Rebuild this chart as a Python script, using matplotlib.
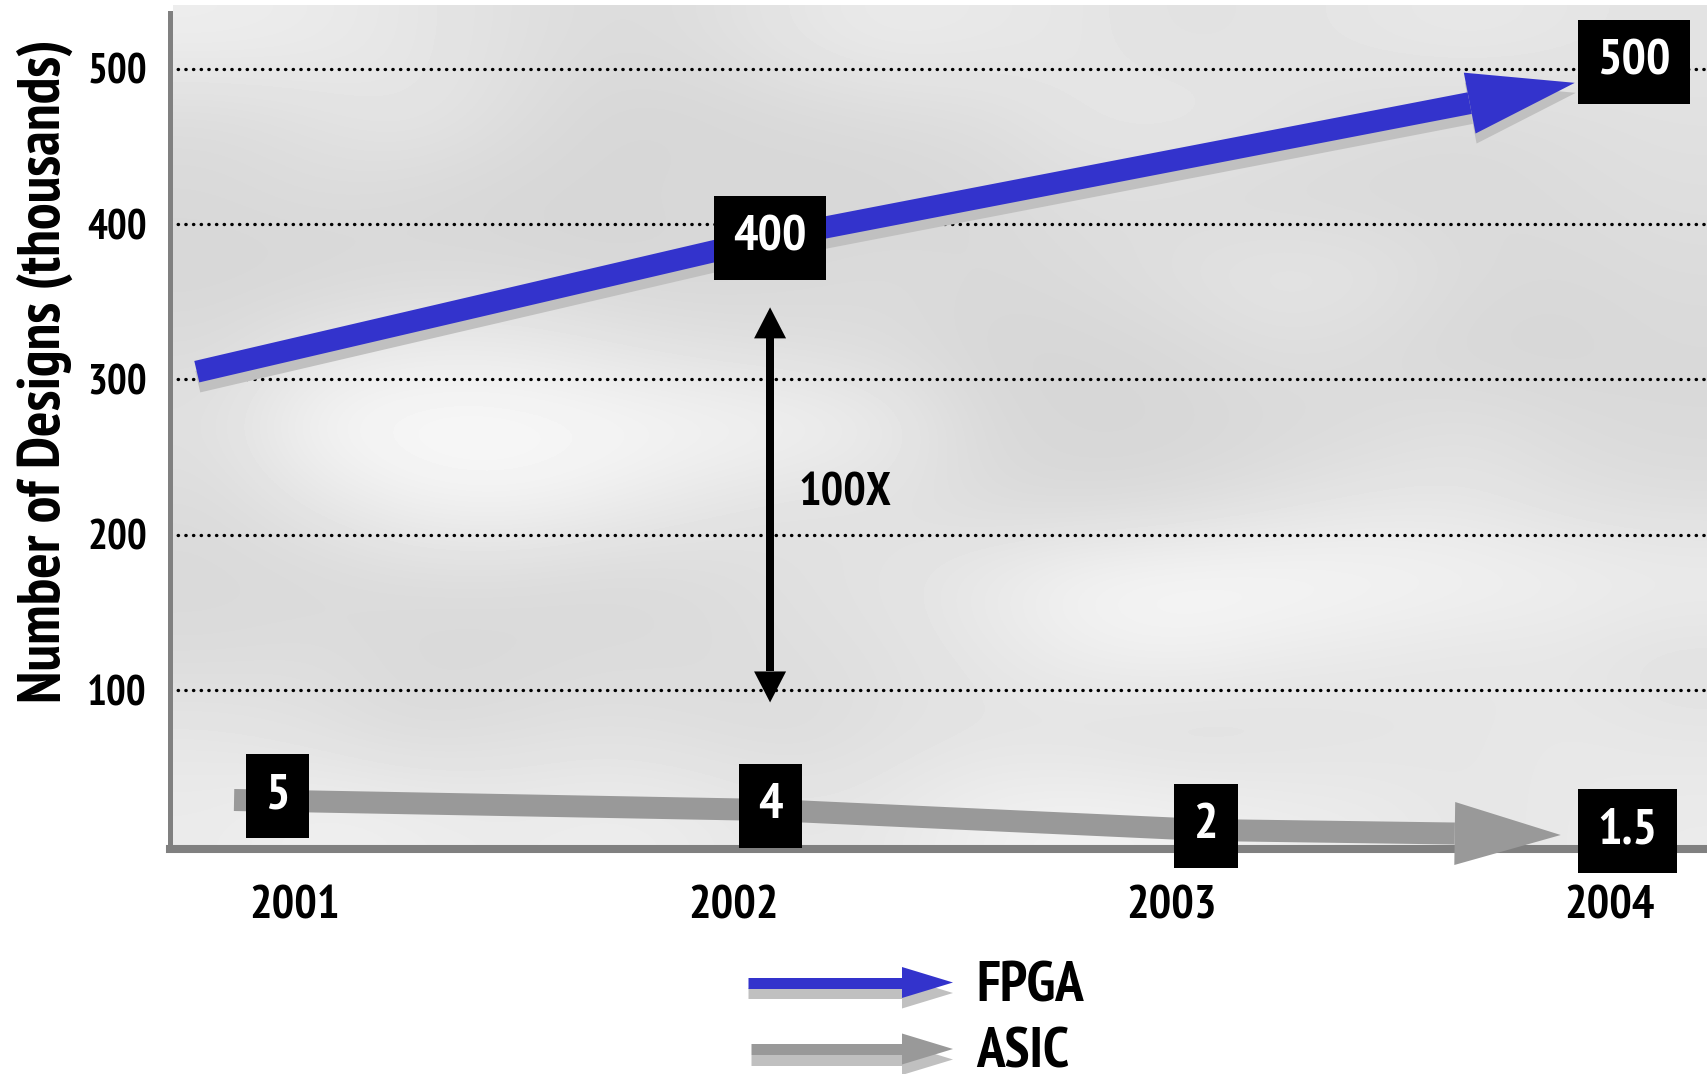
import numpy as np
import matplotlib
matplotlib.use("Agg")
import matplotlib.pyplot as plt
from matplotlib import font_manager
from matplotlib.patches import Polygon

# ---- data -------------------------------------------------------------
years = ["2001", "2002", "2003", "2004"]
fpga_trend = [314, 400, 500]          # FPGA designs (thousands): trend start, 2002, 2004
fpga_labels = ["400", "500"]
asic_values = [5, 4, 2, 1.5]          # ASIC designs (thousands), 2001-2004
asic_labels = ["5", "4", "2", "1.5"]
y_ticks = [100, 200, 300, 400, 500]
y_tick_labels = ["100", "200", "300", "400", "500"]
ratio_label = "100X"
legend_names = ["FPGA", "ASIC"]

# ---- style ------------------------------------------------------------
BLUE = "#3333cc"
ASIC_GRAY = "#999999"
SHADOW = "#c0c0c0"
SPINE = "#808080"


def pick_font():
    installed = {f.name for f in font_manager.fontManager.ttflist}
    for name in ["Liberation Sans Narrow", "PT Sans Narrow", "Archivo Narrow",
                 "Roboto Condensed", "Arimo", "Liberation Sans", "DejaVu Sans"]:
        if name in installed:
            return name
    return "DejaVu Sans"


FONT = pick_font()
plt.rcParams["font.family"] = [FONT, "DejaVu Sans"]
plt.rcParams["font.weight"] = "bold"

W, H = 1708, 1074
fig = plt.figure(figsize=(W / 100, H / 100), dpi=100)
fig.patch.set_facecolor("white")

# ---- cloudy backdrop ----------------------------------------------------
cloud = np.array([
    [0.93, 0.92, 0.90, 0.88, 0.86, 0.87, 0.90, 0.92, 0.91, 0.90, 0.88, 0.89, 0.90, 0.91, 0.90, 0.89],
    [0.86, 0.88, 0.90, 0.87, 0.84, 0.84, 0.85, 0.86, 0.87, 0.90, 0.91, 0.89, 0.87, 0.86, 0.87, 0.88],
    [0.85, 0.86, 0.85, 0.84, 0.84, 0.85, 0.84, 0.84, 0.85, 0.87, 0.86, 0.85, 0.85, 0.85, 0.86, 0.87],
    [0.84, 0.84, 0.85, 0.85, 0.84, 0.84, 0.85, 0.86, 0.85, 0.86, 0.88, 0.90, 0.89, 0.86, 0.85, 0.86],
    [0.86, 0.90, 0.92, 0.92, 0.90, 0.88, 0.87, 0.86, 0.84, 0.84, 0.85, 0.87, 0.86, 0.84, 0.84, 0.85],
    [0.88, 0.96, 0.98, 0.98, 0.97, 0.96, 0.95, 0.92, 0.85, 0.84, 0.84, 0.85, 0.86, 0.88, 0.86, 0.85],
    [0.86, 0.90, 0.94, 0.95, 0.93, 0.90, 0.88, 0.88, 0.86, 0.85, 0.86, 0.88, 0.90, 0.90, 0.88, 0.87],
    [0.85, 0.85, 0.86, 0.86, 0.85, 0.86, 0.88, 0.89, 0.92, 0.96, 0.97, 0.97, 0.96, 0.95, 0.94, 0.93],
    [0.86, 0.87, 0.85, 0.85, 0.86, 0.86, 0.87, 0.88, 0.90, 0.93, 0.94, 0.92, 0.91, 0.90, 0.90, 0.88],
    [0.90, 0.88, 0.86, 0.87, 0.88, 0.87, 0.86, 0.88, 0.89, 0.88, 0.87, 0.88, 0.89, 0.90, 0.91, 0.90],
    [0.92, 0.94, 0.93, 0.92, 0.93, 0.92, 0.90, 0.91, 0.94, 0.95, 0.94, 0.93, 0.92, 0.90, 0.91, 0.92],
])
bg = fig.add_axes([173 / W, 1 - 849 / H, (W - 173) / W, (849 - 5) / H])
bg.imshow(cloud, cmap="gray", vmin=0, vmax=1, interpolation="bicubic", aspect="auto")
bg.set_axis_off()

# ---- main axes ----------------------------------------------------------
ax = fig.add_axes([170.5 / W, 1 - 849 / H, (W - 170.5) / W, 844 / H])
ax.patch.set_visible(False)
ax.set_xlim(-0.284, 3.224)
ax.set_ylim(-2.36, 541.1)

for s in ("top", "right"):
    ax.spines[s].set_visible(False)
ax.spines["left"].set_color(SPINE)
ax.spines["left"].set_linewidth(3.6)
ax.spines["left"].set_bounds(-2.36, 536)
ax.spines["bottom"].set_color(SPINE)
ax.spines["bottom"].set_linewidth(5.8)

ax.set_xticks(range(len(years)))
ax.set_xticklabels(years, fontsize=34, fontweight="bold")
ax.set_yticks(y_ticks)
ax.set_yticklabels(y_tick_labels, fontsize=30, fontweight="bold")
ax.tick_params(axis="x", length=0, pad=26.5)
ax.tick_params(axis="y", length=0, pad=17)

ax.set_ylabel("Number of Designs (thousands)", fontsize=43, fontweight="bold")
ax.yaxis.set_label_coords((45 - 170.5) / (W - 170.5), (849 - 371) / 844)
ax.yaxis.label.set_verticalalignment("center")

for v in y_ticks:
    ax.axhline(v, color="black", lw=2.4, linestyle=(0, (0.1, 2.2)),
               dash_capstyle="round", zorder=1)

# ASIC values live on an exaggerated hidden scale so the tiny numbers stay visible
ax2 = ax.twinx()
ax2.set_ylim(0.1, 84.5)
ax2.set_axis_off()


def arrow_parts(axis, xs, ys, head_len, head_w, shift=(0.0, 0.0)):
    """Shaft polyline and triangular head (both in data coords) of a block arrow."""
    pts = axis.transData.transform(np.column_stack([xs, ys])) + np.asarray(shift, float)
    tip, prev = pts[-1], pts[-2]
    d = (tip - prev) / np.hypot(*(tip - prev))
    n = np.array([-d[1], d[0]])
    base = tip - d * head_len
    head = np.array([tip, base + n * head_w / 2, base - n * head_w / 2])
    shaft = np.vstack([pts[:-1], base])
    inv = axis.transData.inverted()
    return inv.transform(shaft), inv.transform(head)


def block_arrow(axis, xs, ys, color, shaft_px, head_len, head_w, shift=(0.0, 0.0), zorder=3):
    shaft, head = arrow_parts(axis, xs, ys, head_len, head_w, shift)
    axis.plot(shaft[:, 0], shaft[:, 1], color=color, lw=shaft_px * 0.72,
              solid_capstyle="butt", solid_joinstyle="miter", zorder=zorder, clip_on=False)
    axis.add_patch(Polygon(head, closed=True, facecolor=color, edgecolor="none",
                           zorder=zorder, clip_on=False))


def value_box(axis, text, x, y, dy):
    axis.annotate(text, xy=(x, y), xytext=(0, dy), textcoords="offset pixels",
                  ha="center", va="center", color="white", fontsize=37, fontweight="bold",
                  bbox=dict(boxstyle="square,pad=0.38", fc="black", ec="none"),
                  zorder=8, annotation_clip=False)


# FPGA trend arrow (2001 -> 2002 -> 2004) with a soft drop shadow
fpga_idx = [0, 1, 3]
fpga_x = [fpga_idx[0] - 0.224, fpga_idx[1] + 0.084, fpga_idx[2] - 0.08]
drop = (0, -14)
block_arrow(ax, fpga_x, fpga_trend, SHADOW, 22, 107, 62,
            shift=(drop[0] + 1, drop[1] - 10), zorder=2)
block_arrow(ax, fpga_x, fpga_trend, BLUE, 22, 107, 62, shift=drop, zorder=3)
value_box(ax, fpga_labels[0], fpga_idx[1] + 0.084, fpga_trend[1], drop[1])
value_box(ax, fpga_labels[1], fpga_idx[2] + 0.055, fpga_trend[2], 7)

# ASIC trend arrow
asic_x = [0 - 0.139, 1 + 0.084, 2 + 0.078, 3 - 0.112]
block_arrow(ax2, asic_x, asic_values, ASIC_GRAY, 22, 106, 63, zorder=3)
box_x = [0 - 0.04, 1 + 0.085, 2 + 0.078, 3 + 0.041]
for lab, bx, v in zip(asic_labels, box_x, asic_values):
    value_box(ax2, lab, bx, v, 4)

# 100X gap marker
gap_x = 1.084
gap_lo, gap_hi = 92, 346.4
gap_mid = (gap_lo + gap_hi) / 2
block_arrow(ax, [gap_x, gap_x], [gap_mid, gap_hi], "black", 8, 31, 32, zorder=4)
block_arrow(ax, [gap_x, gap_x], [gap_mid, gap_lo], "black", 8, 31, 32, zorder=4)
ax.text(1.148, 218.7, ratio_label, ha="left", va="baseline", fontsize=34,
        fontweight="bold", color="black", zorder=5)

# ---- legend -------------------------------------------------------------
lg = fig.add_axes([0, 0, 1, 1])
lg.set_xlim(0, W)
lg.set_ylim(H, 0)
lg.set_axis_off()
lg.patch.set_visible(False)

block_arrow(lg, [748, 953], [993, 993], SHADOW, 11, 51, 31, zorder=2)
block_arrow(lg, [748, 953], [982.5, 982.5], BLUE, 11, 51, 31, zorder=3)
block_arrow(lg, [751, 953], [1059.5, 1059.5], SHADOW, 11, 51, 31, zorder=2)
block_arrow(lg, [751, 953], [1049, 1049], ASIC_GRAY, 11, 51, 31, zorder=3)
lg.text(976, 1002, legend_names[0], ha="left", va="baseline", fontsize=41, fontweight="bold")
lg.text(976, 1068, legend_names[1], ha="left", va="baseline", fontsize=41, fontweight="bold")

fig.savefig("out.png", dpi=100)
